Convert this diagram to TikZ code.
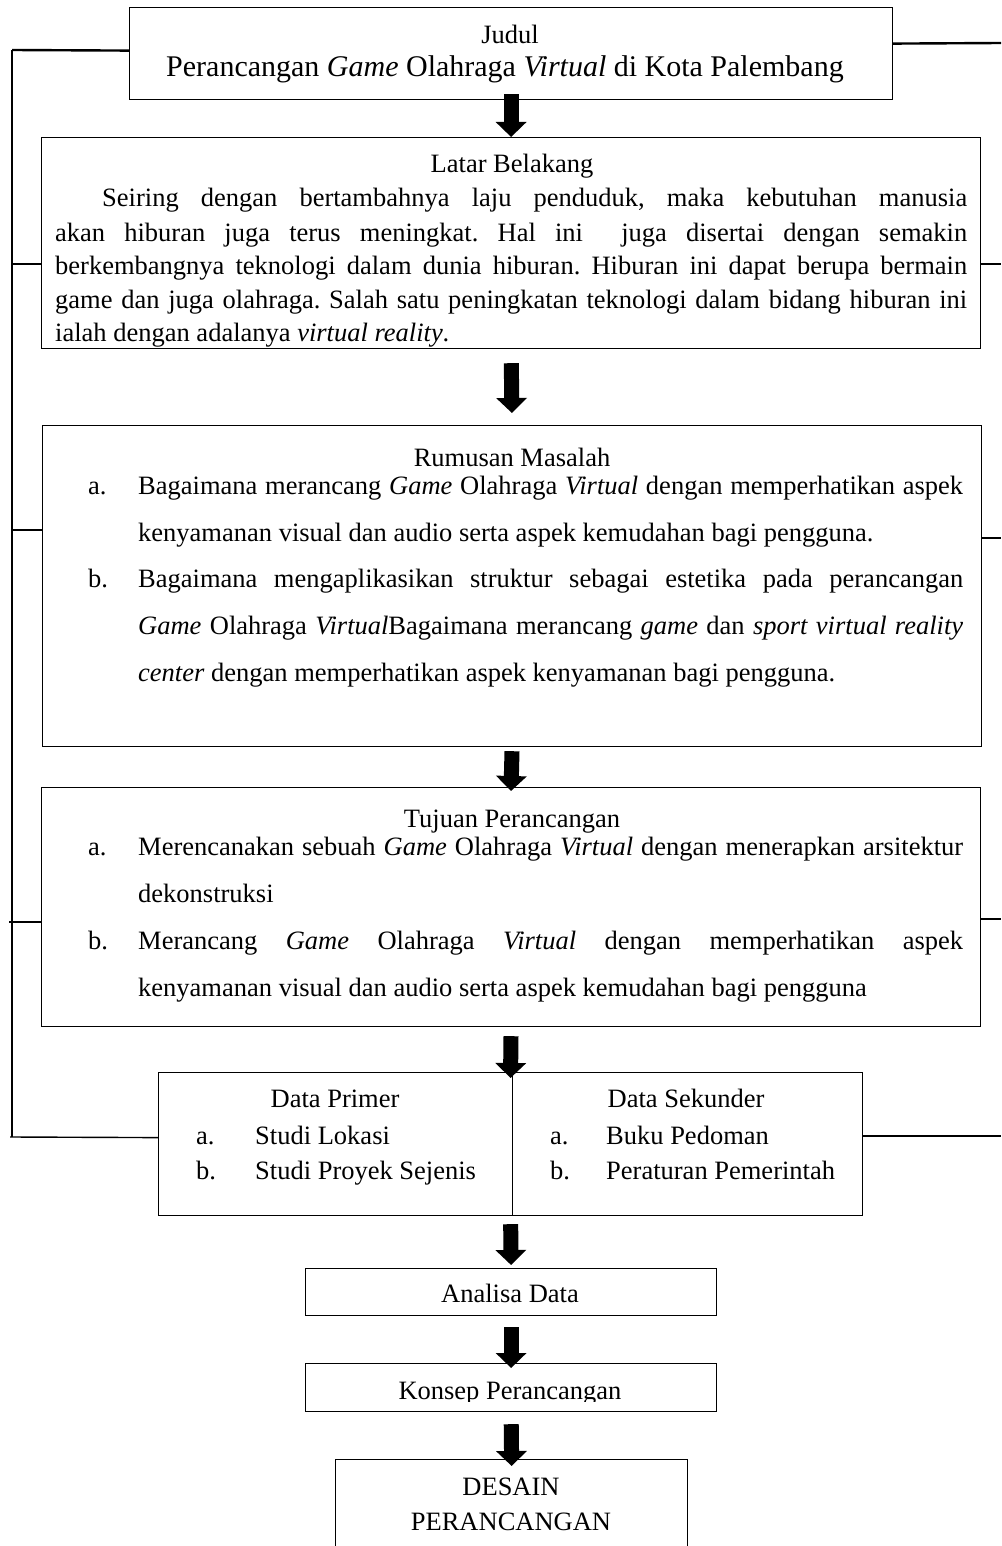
\documentclass[tikz,border=0pt]{standalone}
\usepackage{fontspec}
\setmainfont{Liberation Serif}
\usetikzlibrary{arrows.meta}
\frenchspacing
\newcommand\myfs{\fontsize{26.5}{30}\selectfont}
\newcommand\mytitlefs{\fontsize{30}{34}\selectfont}
\newcommand\jline[2]{\makebox[#1pt][s]{#2}}
\begin{document}
\begin{tikzpicture}[x=1pt,y=-1pt,
  box/.style={draw, line width=1.2pt, inner sep=0pt, anchor=north west},
  txt/.style={inner sep=0pt, anchor=base west, font=\myfs},
  ctxt/.style={inner sep=0pt, anchor=base, font=\myfs},
  bigarrow/.style={line width=15pt, -{Triangle[width=30pt,length=15pt]}},
  frame/.style={line width=1.4pt},
  tstub/.style={line width=2.4pt}]
\fill[white] (0,0) rectangle (1001,1546);
\useasboundingbox (0,0) rectangle (1001,1546);

% boxes
\node[box, minimum width=763pt, minimum height=92pt] (title) at (129,7) {};
\node[box, minimum width=939pt, minimum height=211pt] (latar) at (41,137) {};
\node[box, minimum width=939pt, minimum height=321pt] (rumusan) at (42,425) {};
\node[box, minimum width=939pt, minimum height=239pt] (tujuan) at (41,787) {};
\node[box, minimum width=704pt, minimum height=143pt] (data) at (158,1072) {};
\node[box, minimum width=411pt, minimum height=47pt] (analisa) at (305,1268) {};
\node[box, minimum width=411pt, minimum height=48pt] (konsep) at (305,1363) {};
\node[box, minimum width=352pt, minimum height=110pt] (desain) at (335,1459) {};
\draw[line width=1.2pt] ([xshift=2pt]data.north) -- ([xshift=2pt]data.south);

% title text
\node[ctxt] (t1) at (510,44) {Judul};
\node[ctxt, font=\mytitlefs] (t2) at (505,77) {Perancangan \textit{Game} Olahraga \textit{Virtual} di Kota Palembang};

% latar belakang
\node[ctxt] (lh) at (512,173) {Latar Belakang};
\node[txt] (l1) at (102,207) {\jline{865}{Seiring dengan bertambahnya laju penduduk, maka kebutuhan manusia}};
\node[txt] (l2) at (55,241) {\jline{912}{akan hiburan juga terus meningkat. Hal ini \ juga disertai dengan semakin}};
\node[txt] (l3) at (55,274) {\jline{912}{berkembangnya teknologi dalam dunia hiburan. Hiburan ini dapat berupa bermain}};
\node[txt] (l4) at (55,308) {\jline{912}{game dan juga olahraga. Salah satu peningkatan teknologi dalam bidang hiburan ini}};
\node[txt] (l5) at (55,341) {ialah dengan adalanya \textit{virtual reality}.};

% rumusan masalah
\node[ctxt] (rh) at (512,466) {Rumusan Masalah};
\node[txt] (ra) at (88,494) {a.};
\node[txt] (r1) at (138,494) {\jline{825}{Bagaimana merancang \textit{Game} Olahraga \textit{Virtual} dengan memperhatikan aspek}};
\node[txt] (r2) at (138,541) {kenyamanan visual dan audio serta aspek kemudahan bagi pengguna.};
\node[txt] (rb) at (88,587) {b.};
\node[txt] (r3) at (138,587) {\jline{825}{Bagaimana mengaplikasikan struktur sebagai estetika pada perancangan}};
\node[txt] (r4) at (138,634) {\jline{825}{\textit{Game} Olahraga \textit{Virtual}Bagaimana merancang \textit{game} dan \textit{sport virtual reality}}};
\node[txt] (r5) at (138,681) {\textit{center} dengan memperhatikan aspek kenyamanan bagi pengguna.};

% tujuan perancangan
\node[ctxt] (uh) at (512,827) {Tujuan Perancangan};
\node[txt] (ua) at (88,855) {a.};
\node[txt] (u1) at (138,855) {\jline{825}{Merencanakan sebuah \textit{Game} Olahraga \textit{Virtual} dengan menerapkan arsitektur}};
\node[txt] (u2) at (138,902) {dekonstruksi};
\node[txt] (ub) at (88,949) {b.};
\node[txt] (u3) at (138,949) {\jline{825}{Merancang \textit{Game} Olahraga \textit{Virtual} dengan memperhatikan aspek}};
\node[txt] (u4) at (138,996) {kenyamanan visual dan audio serta aspek kemudahan bagi pengguna};

% data
\node[ctxt] (dp) at (335,1107) {Data Primer};
\node[txt] (dpa) at (196,1144) {a.};
\node[txt] (dp1) at (255,1144) {Studi Lokasi};
\node[txt] (dpb) at (196,1179) {b.};
\node[txt] (dp2) at (255,1179) {Studi Proyek Sejenis};
\node[ctxt] (ds) at (686,1107) {Data Sekunder};
\node[txt] (dsa) at (550,1144) {a.};
\node[txt] (ds1) at (606,1144) {Buku Pedoman};
\node[txt] (dsb) at (550,1179) {b.};
\node[txt] (ds2) at (606,1179) {Peraturan Pemerintah};

% lower boxes text
\node[ctxt] (at) at (510,1302) {Analisa Data};
\begin{scope}
\clip (305,1363) rectangle (716,1401);
\node[ctxt] (kt) at (510,1399) {Konsep Perancangan};
\end{scope}
\node[ctxt] (dt1) at (511,1495) {DESAIN};
\node[ctxt] (dt2) at (511,1530) {PERANCANGAN};

% arrows
\draw[bigarrow] ([yshift=6pt]title.south) -- (latar.north);
\draw[bigarrow, shorten <=14pt, shorten >=12pt] (latar.south) -- (rumusan.north);
\draw[bigarrow, shorten <=4pt, shorten >=-4pt] (rumusan.south) -- (tujuan.north);
\draw[bigarrow, shorten <=9pt, shorten >=-6pt] (tujuan.south) -- (data.north);
\draw[bigarrow, shorten <=8pt, shorten >=3pt] (data.south) -- (analisa.north);
\draw[bigarrow, shorten <=11pt, shorten >=-5pt] (analisa.south) -- (konsep.north);
\draw[bigarrow, shorten <=12pt, shorten >=-7pt] (konsep.south) -- (desain.north);

% frame lines
\coordinate (LT) at (12,50);
\coordinate (LB) at (12,1137);
\coordinate (R) at (1001,0);
\draw[frame] (LT) -- (LB);
\draw[tstub] ([yshift=3pt]title.west) -- (LT);
\draw[frame] ([yshift=6.5pt]data.west) -- (LB) -- ++(-2,0);
\draw[frame] (latar.west |- 0,264) -- (LT |- 0,264);
\draw[frame] (rumusan.west |- 0,530) -- (LT |- 0,530);
\draw[frame] (tujuan.west |- 0,922) -- ([xshift=-3pt]LT |- 0,922);
\draw[tstub] ([yshift=10pt]title.east) -- (R |- 0,43);
\draw[frame] (latar.east |- 0,264) -- (R |- 0,264);
\draw[frame] (rumusan.east |- 0,538) -- (R |- 0,538);
\draw[frame] (tujuan.east |- 0,919) -- (R |- 0,919);
\draw[frame] (data.east |- 0,1136) -- (R |- 0,1136);
\end{tikzpicture}
\end{document}
